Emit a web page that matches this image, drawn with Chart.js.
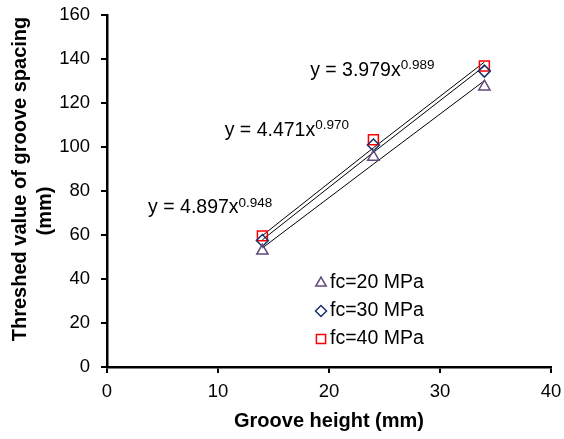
<!DOCTYPE html>
<html><head><meta charset="utf-8">
<script src="https://cdn.jsdelivr.net/npm/chart.js@4.4.0/dist/chart.umd.min.js"></script>
<style>html,body{margin:0;padding:0;background:#fff}#wrap{width:564px;height:439px}</style>
</head><body><div id="wrap"><canvas id="c" width="564" height="439"></canvas></div>
<script>
// ---- data ----
const grooveHeights = [14, 24, 34];
const fc20 = [52.8, 95.5, 127.4];
const fc30 = [57.5, 100.9, 134.5];
const fc40 = [59.6, 103.3, 136.8];
const seriesNames = ['fc=20 MPa', 'fc=30 MPa', 'fc=40 MPa'];
// power trendlines y = a x^b, as printed on the chart
const fitCoef = [3.979, 4.471, 4.897];
const fitExp = [0.989, 0.970, 0.948];
const fitLabelMain = ['y = 3.979x', 'y = 4.471x', 'y = 4.897x'];
const fitLabelSup = ['0.989', '0.970', '0.948'];
const xTickValues = [0, 10, 20, 30, 40];
const yTickValues = [0, 20, 40, 60, 80, 100, 120, 140, 160];
const xTitle = 'Groove height (mm)';
const yTitleLines = ['Threshed value of groove spacing', '(mm)'];

const FONT = "'Liberation Sans', Arial, Helvetica, sans-serif";
const seriesValues = [fc20, fc30, fc40];
const styles = [
  {pointStyle: 'triangle', color: '#604A7B', radius: 6.5},
  {pointStyle: 'rectRot', color: '#17306A', radius: 6},
  {pointStyle: 'rect', color: '#FF0000', radius: 7}
];
// label anchors (data units): left edge x, vertical centre y
const eqAnchor = [{x: 18.3, y: 134.8}, {x: 10.6, y: 107.5}, {x: 3.7, y: 72.3}];

const markerSets = seriesValues.map((vals, i) => ({
  label: seriesNames[i],
  data: grooveHeights.map((x, j) => ({x: x, y: vals[j]})),
  showLine: false,
  pointStyle: styles[i].pointStyle,
  pointRadius: styles[i].radius,
  pointHoverRadius: styles[i].radius,
  pointBorderColor: styles[i].color,
  pointBackgroundColor: 'rgba(0,0,0,0)',
  pointBorderWidth: 1.5,
  borderColor: styles[i].color
}));
const trendSets = fitCoef.map((a, i) => ({
  label: 'trend ' + i,
  data: grooveHeights.map(x => ({x: x, y: a * Math.pow(x, fitExp[i])})),
  showLine: true,
  pointRadius: 0,
  borderColor: '#000',
  borderWidth: 1,
  tension: 0
}));

const decor = {
  id: 'decor',
  afterDraw(chart) {
    const ctx = chart.ctx, xs = chart.scales.x, ys = chart.scales.y, ca = chart.chartArea;
    ctx.save();
    ctx.fillStyle = '#000';
    // x title
    ctx.font = 'bold 20px ' + FONT;
    ctx.textAlign = 'center'; ctx.textBaseline = 'middle';
    ctx.fillText(xTitle, (ca.left + ca.right) / 2, 421);
    // y title (two lines)
    ctx.save(); ctx.translate(20, 179); ctx.rotate(-Math.PI / 2);
    ctx.fillText(yTitleLines[0], 0, 0); ctx.restore();
    ctx.save(); ctx.translate(45, 211); ctx.rotate(-Math.PI / 2);
    ctx.fillText(yTitleLines[1], 0, 0); ctx.restore();
    // equations
    eqAnchor.forEach((p, i) => {
      const px = xs.getPixelForValue(p.x), py = ys.getPixelForValue(p.y);
      ctx.textAlign = 'left'; ctx.textBaseline = 'middle';
      ctx.font = '19.5px ' + FONT;
      ctx.fillText(fitLabelMain[i], px, py);
      const w = ctx.measureText(fitLabelMain[i]).width;
      ctx.font = '13.5px ' + FONT;
      ctx.fillText(fitLabelSup[i], px + w, py - 5);
    });
    // legend
    const legX = 321, legY = [283, 311, 339];
    seriesNames.forEach((name, i) => {
      ctx.strokeStyle = styles[i].color; ctx.lineWidth = 1.5;
      ctx.fillStyle = 'rgba(0,0,0,0)';
      Chart.helpers.drawPoint(ctx, {pointStyle: styles[i].pointStyle, radius: styles[i].radius - 0.5, rotation: 0, borderWidth: 1.5}, legX, legY[i]);
      ctx.fillStyle = '#000';
      ctx.font = '19.5px ' + FONT; ctx.textAlign = 'left'; ctx.textBaseline = 'middle';
      ctx.fillText(name, 330, legY[i]);
    });
    ctx.restore();
  }
};

function fixPad(s) { s.paddingLeft = 0; s.paddingRight = 0; s.paddingTop = 0; s.paddingBottom = 0; }

new Chart(document.getElementById('c'), {
  type: 'scatter',
  data: {datasets: markerSets.concat(trendSets)},
  options: {
    responsive: false,
    devicePixelRatio: 1,
    animation: false,
    layout: {padding: {left: 0, right: 13, top: 15, bottom: 0}},
    plugins: {legend: {display: false}, tooltip: {enabled: false}},
    scales: {
      x: {
        type: 'linear', min: 0, max: 40,
        afterFit(s) { s.height = 72; fixPad(s); },
        afterBuildTicks(s) { s.ticks = xTickValues.map(v => ({value: v})); },
        grid: {drawOnChartArea: false, color: '#000', lineWidth: 2, tickLength: 6},
        border: {color: '#000', width: 2.5},
        ticks: {color: '#000', font: {family: FONT, size: 18.5}, padding: 8, maxRotation: 0}
      },
      y: {
        type: 'linear', min: 0, max: 160,
        afterFit(s) { s.width = 107; fixPad(s); },
        afterBuildTicks(s) { s.ticks = yTickValues.map(v => ({value: v})); },
        grid: {drawOnChartArea: false, color: '#000', lineWidth: 2, tickLength: 6},
        border: {color: '#000', width: 2.5},
        ticks: {color: '#000', font: {family: FONT, size: 18.5}, padding: 11}
      }
    }
  },
  plugins: [decor]
});
</script></body></html>
